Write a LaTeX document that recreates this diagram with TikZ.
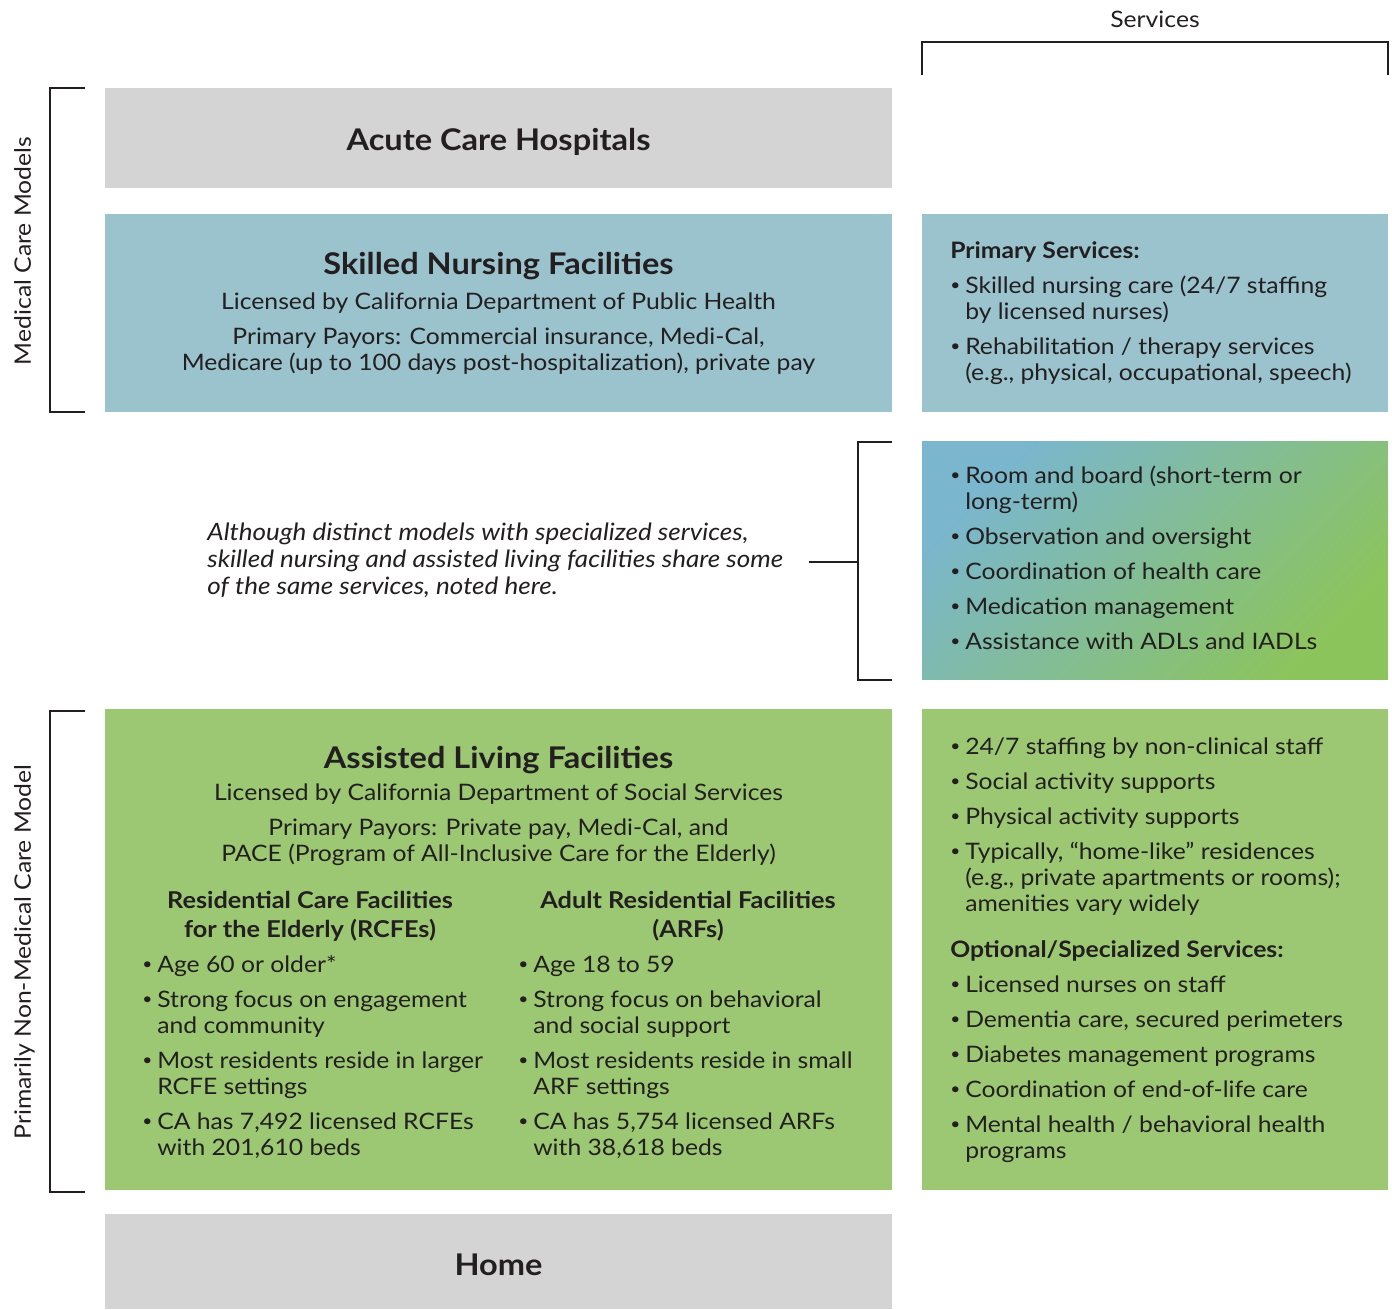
\documentclass[tikz,border=0pt]{standalone}
\usepackage{fontspec}
\setmainfont{Lato}[FakeStretch=1.09]
\usepackage{graphicx}

\definecolor{txt}{HTML}{231F20}
\definecolor{cgray}{HTML}{D4D4D4}
\definecolor{cblue}{HTML}{9AC3CD}
\definecolor{cgreen}{HTML}{9CC873}
\definecolor{gblue}{HTML}{7AB6CE}
\definecolor{ggreen}{HTML}{8CC45C}

\newcommand{\bl}{\makebox[8.5pt][l]{\raisebox{.12em}{\scalebox{.7}{\textbullet}}}}
\newcommand{\ind}{\hspace*{8.5pt}}
\newcommand{\tp}{\rule{0pt}{12pt}}

\begin{document}
\begin{tikzpicture}
      [x=0.02cm, y=-0.02cm,
       every node/.style={inner sep=0pt, text=txt},
       panel/.style={minimum width=15.74cm},
       side/.style={minimum width=9.32cm},
       title/.style={font=\fontsize{17}{20}\selectfont\bfseries, anchor=base},
       body/.style={font=\fontsize{12.9}{14.8}\selectfont, anchor=north, align=center},
       list/.style={font=\fontsize{12.9}{14.8}\selectfont, anchor=north west, align=left},
       head/.style={font=\fontsize{13.2}{16.5}\selectfont\bfseries, anchor=north, align=center},
       brk/.style={draw=txt, line width=0.6pt}]
      \useasboundingbox (0,0) rectangle (1392,1309);

      \node [panel, minimum height=2cm, fill=cgray] (acute) at (498.5,138) {};
      \node [panel, minimum height=3.96cm, fill=cblue] (snf) at (498.5,313) {};
      \node [side, minimum height=3.96cm, fill=cblue] (prim) at (1155,313) {};
      \node [side, minimum height=4.78cm, top color=gblue, bottom color=ggreen, shading angle=45] (shared) at (1155,560.5) {};
      \node [panel, minimum height=9.62cm, fill=cgreen] (alf) at (498.5,949.5) {};
      \node [side, minimum height=9.62cm, fill=cgreen] (extra) at (1155,949.5) {};
      \node [panel, minimum height=1.9cm, fill=cgray] (home) at (498.5,1261.5) {};

      \node [body, anchor=base] (svc) at (1155,27) {Services};
      \draw [brk] (922,75) -- (922,42) -- (1388,42) -- (1388,75);

      \draw [brk] (85,88) -- (50,88) -- (50,412) -- (85,412);
      \node [body, anchor=base, rotate=90] (medlab) at (31,251) {Medical Care Models};
      \draw [brk] (85,711) -- (50,711) -- (50,1192) -- (85,1192);
      \node [body, anchor=base, rotate=90] (nonmedlab) at (31,952) {Primarily Non-Medical Care Model};

      \node [title] (acutet) at (498.5,150) {Acute Care Hospitals};
      \node [title] (homet) at (498.5,1275) {Home};

      \node [title] (snft) at (498.5,274) {Skilled Nursing Facilities};
      \node [body] (snfb) at (498.5,287.9) {\tp Licensed by California Department of Public Health\\[5.1pt]
        Primary Payors: Commercial insurance, Medi-Cal,\\
        Medicare (up to 100 days post-hospitalization), private pay};

      \node [list] (primt) at (950,236.9) {\tp\textbf{Primary Services:}\\[5.1pt]
        \bl Skilled nursing care (24/7 staffing\\ \ind by licensed nurses)\\[5.1pt]
        \bl Rehabilitation / therapy services\\ \ind (e.g., physical, occupational, speech)};

      \node [list] (sharedt) at (950,461.9) {\tp\bl Room and board (short-term or\\ \ind long-term)\\[5.1pt]
        \bl Observation and oversight\\[5.1pt]
        \bl Coordination of health care\\[5.1pt]
        \bl Medication management\\[5.1pt]
        \bl Assistance with ADLs and IADLs};

      \node [list, font=\fontsize{13.6}{15.4}\selectfont\itshape] (note) at (207,518.9) {\tp Although distinct models with specialized services,\\
        skilled nursing and assisted living facilities share some\\
        of the same services, noted here.};
      \coordinate (mid) at (858,562);
      \draw [brk] (892,442) -- (858,442) -- (858,680) -- (892,680);
      \draw [brk] ([xshift=0.5cm]note.east |- mid) -- (mid);

      \node [title] (alft) at (498.5,768) {Assisted Living Facilities};
      \node [body] (alfb) at (498.5,778.9) {\tp Licensed by California Department of Social Services\\[5.1pt]
        Primary Payors: Private pay, Medi-Cal, and\\
        PACE (Program of All-Inclusive Care for the Elderly)};

      \node [head] (rcfeh) at (310,886.9) {\tp Residential Care Facilities\\ for the Elderly (RCFEs)};
      \node [head] (arfh) at (688,886.9) {\tp Adult Residential Facilities\\ (ARFs)};

      \node [list] (rcfel) at (142,950.9) {\tp\bl Age 60 or older*\\[5.1pt]
        \bl Strong focus on engagement\\ \ind and community\\[5.1pt]
        \bl Most residents reside in larger\\ \ind RCFE settings\\[5.1pt]
        \bl CA has 7,492 licensed RCFEs\\ \ind with 201,610 beds};
      \node [list] (arfl) at (518,950.9) {\tp\bl Age 18 to 59\\[5.1pt]
        \bl Strong focus on behavioral\\ \ind and social support\\[5.1pt]
        \bl Most residents reside in small\\ \ind ARF settings\\[5.1pt]
        \bl CA has 5,754 licensed ARFs\\ \ind with 38,618 beds};

      \node [list] (extrat) at (950,732.9) {\tp\bl 24/7 staffing by non-clinical staff\\[5.1pt]
        \bl Social activity supports\\[5.1pt]
        \bl Physical activity supports\\[5.1pt]
        \bl Typically, “home-like” residences\\ \ind (e.g., private apartments or rooms);\\ \ind amenities vary widely\\[11.4pt]
        \textbf{Optional/Specialized Services:}\\[5.1pt]
        \bl Licensed nurses on staff\\[5.1pt]
        \bl Dementia care, secured perimeters\\[5.1pt]
        \bl Diabetes management programs\\[5.1pt]
        \bl Coordination of end-of-life care\\[5.1pt]
        \bl Mental health / behavioral health\\ \ind programs};
    \end{tikzpicture}
\end{document}
